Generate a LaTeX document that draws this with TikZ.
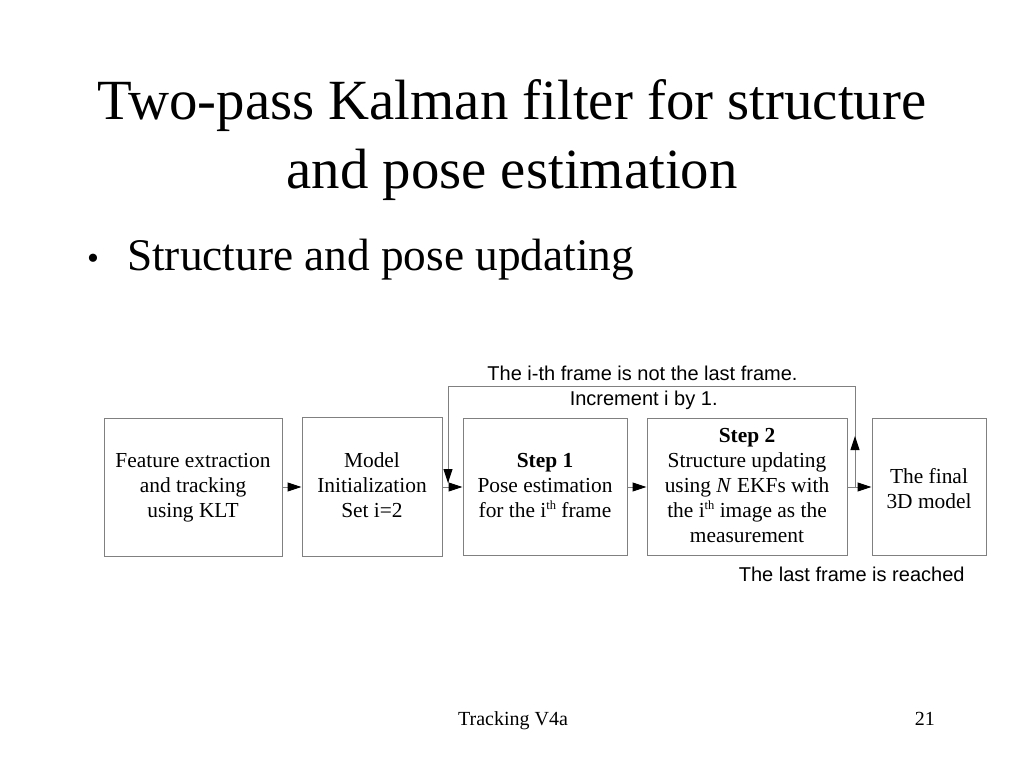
\documentclass[tikz,border=0pt]{standalone}
\usepackage{fontspec}
\setmainfont{Liberation Serif}
\setsansfont{Liberation Sans}
\usetikzlibrary{arrows.meta}
\definecolor{linegray}{HTML}{808080}
\newcommand{\supth}{\raisebox{8pt}[0pt][0pt]{\fontsize{12.5}{12}\selectfont th}}
\begin{document}
\begin{tikzpicture}[x=1pt,y=-1pt,
  box/.style={draw=linegray, line width=1pt, inner sep=0pt, align=center,
    font=\fontsize{21.4}{25}\selectfont},
  tipblk/.style={-{Triangle[length=14pt,width=9pt,color=black,fill=black]}},
  conn/.style={draw=linegray, line width=1pt, tipblk},
  fbline/.style={draw=linegray, line width=1pt},
  lbl/.style={inner sep=0pt, anchor=base, font=\sffamily\fontsize{20}{24}\selectfont}]
\useasboundingbox (0,0) rectangle (1024,768);
\fill[white] (0,0) rectangle (1024,768);

% title and bullet
\node[inner sep=0pt, anchor=base, align=center, font=\fontsize{56.8}{69}\selectfont] (title) at (512,188.3)
  {Two-pass Kalman filter for structure\\and pose estimation};
\node[inner sep=0pt, anchor=base, font=\fontsize{34}{40}\selectfont] (dot) at (93,269) {•};
\node[inner sep=0pt, anchor=base west, font=\fontsize{45.3}{54}\selectfont] (bullet) at (127,270.7)
  {Structure and pose updating};

% boxes
\node[box, minimum width=178pt, minimum height=138pt] (b1) at (193,487)
  {\strut Feature extraction\\\strut and tracking\\\strut using KLT};
\node[box, minimum width=140pt, minimum height=139pt] (b2) at (372,487)
  {\strut Model\\\strut Initialization\\\strut Set i=2};
\node[box, minimum width=164pt, minimum height=137pt] (b3) at (545,487)
  {\strut\textbf{Step 1}\\\strut Pose estimation\\\strut for the i\supth{} frame};
\node[box, minimum width=200pt, minimum height=137pt] (b4) at (747,487)
  {\strut\textbf{Step 2}\\\strut Structure updating\\\strut using \textit{N} EKFs with\\\strut the i\supth{} image as the\\\strut measurement};
\node[box, minimum width=114pt, minimum height=137pt, text depth=-2pt] (b5) at (929,487)
  {\strut The final\\\strut 3D model};

% forward connectors
\draw[conn] (b1.east) -- (b2.west);
\draw[conn] (b2.east) -- (b3.west);
\draw[conn] (b3.east) -- (b4.west);
\draw[conn] (b4.east) -- (b5.west);

% feedback loop
\coordinate (j) at (855,487);
\coordinate (m) at (855,436);
\coordinate (c1) at (855,386);
\coordinate (c2) at (448,386);
\coordinate (e) at (448,483);
\draw[fbline] (j) -- (c1) -- (c2) -- (e);
\draw[conn] (c2) -- (e);
\draw[conn] (j) -- (m);

% labels
\node[lbl] (l1) at (642.5,380.7) {The i-th frame is not the last frame.};
\node[lbl] (l2) at (643.7,405) {Increment i by 1.};
\node[lbl] (l3) at (851.7,581.7) {The last frame is reached};

% footer
\node[inner sep=0pt, anchor=base, font=\fontsize{20}{24}\selectfont] (foot) at (513,725) {Tracking V4a};
\node[inner sep=0pt, anchor=base east, font=\fontsize{20}{24}\selectfont] (page) at (935,725) {21};
\end{tikzpicture}
\end{document}
